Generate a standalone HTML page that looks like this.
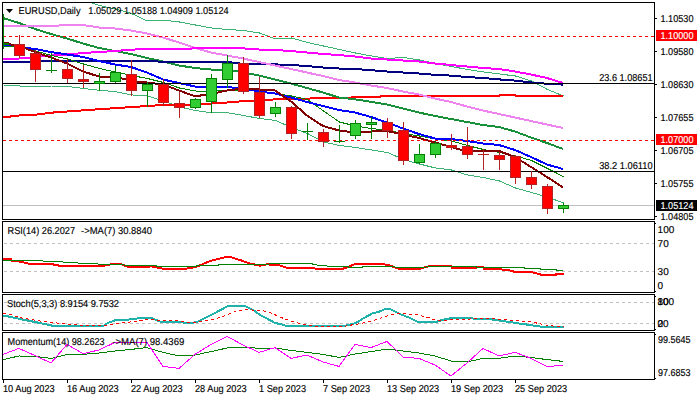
<!DOCTYPE html><html><head><meta charset="utf-8"><style>html,body{margin:0;padding:0;background:#fff;width:700px;height:400px;overflow:hidden}svg{display:block}text{font-family:"Liberation Sans",sans-serif;font-size:10px;fill:#000;stroke:#000;stroke-width:0.15px;text-rendering:geometricPrecision}</style></head><body>
<svg width="700" height="400" viewBox="0 0 700 400">
<rect width="700" height="400" fill="#fff"/>
<defs><clipPath id="cm"><rect x="3" y="3" width="651" height="216"/></clipPath><clipPath id="cr"><rect x="3" y="222" width="651" height="70"/></clipPath><clipPath id="cs"><rect x="3" y="295" width="651" height="35"/></clipPath><clipPath id="cmo"><rect x="3" y="333" width="651" height="46"/></clipPath></defs>
<g clip-path="url(#cm)">
<g fill="none" stroke-linejoin="round" shape-rendering="crispEdges">
<polyline points="3.5,-20 19.5,-16 35.5,-12 51.5,-9 67.5,-5 83.5,0 99.5,5.5 115.5,9 131.5,13.5 147.5,21 163.5,20.2 179.5,22 195.5,25 211.5,28 227.5,29.5 243.5,30.5 259.5,33 275.5,39 291.5,38 307.5,42.5 323.5,46 339.5,49.5 355.5,53 371.5,56 387.5,58.5 403.5,57.5 419.5,60 435.5,63.5 451.5,66.5 467.5,69.5 483.5,72 499.5,74 515.5,76 531.5,81 547.5,89.5 563.5,96" stroke="#3cb371" stroke-width="1"/>
<polyline points="3.5,85 19.5,86 35.5,86.4 51.5,86 67.5,86.5 83.5,88.5 99.5,90.3 115.5,91.6 131.5,94.9 147.5,96 163.5,101 179.5,107 195.5,110.5 211.5,112.7 227.5,112.8 243.5,115.5 259.5,118.5 275.5,120.5 291.5,127.5 307.5,133.5 323.5,142 339.5,145.5 355.5,147.5 371.5,150 387.5,152.5 403.5,159.5 419.5,164 435.5,168 451.5,170 467.5,175 483.5,177.5 499.5,181 515.5,188 531.5,192.5 547.5,197 563.5,203" stroke="#3cb371" stroke-width="1"/>
<polyline points="3,117.4 19,115.5 35,114.8 51,112.7 67,111.5 83,110.4 99,109.2 115,108.2 131,107.1 147,106 163,105 179,104.5 195,104.5 211,103.5 227,102.5 243,101.2 259,100.3 275,99.4 291,99 307,98.6 323,98.1 339,97.9 355,97.4 371,96.8 387,96.3 403,96 419,96 435,96 451,96 467,96 483,96 499,96 500,95 515,95 516,96 563,96" stroke="#ff0000" stroke-width="2"/>
<polyline points="3,18 19,23 35,29 51,34 67,38.5 83,43.5 99,48 115,51 131,54 147,58 163,61.5 179,65.5 195,68 211,69.5 227,69.5 243,72.5 259,75.5 275,79.5 291,83.5 307,88 323,92.5 339,97.5 355,99.3 371,101.8 387,104.5 403,108.5 419,112.5 435,116 451,119 467,122 483,125 499,127 515,131.5 531,137.5 547,143 563,149" stroke="#18903a" stroke-width="2"/>
<polyline points="3,62 19,62 35,61.5 51,61 67,61 83,61 99,60.5 115,60.5 131,60.5 147,60.5 163,62 179,62 195,62 211,62 227,62 243,63.8 259,64 275,64.4 291,65 307,66 323,67.5 339,68.5 355,69 371,70.2 387,71.5 403,72.5 419,73.5 435,74.8 451,75.6 467,77 483,78 499,79.4 515,80.6 531,82.4 547,83.8 563,84.6" stroke="#000080" stroke-width="2"/>
<polyline points="3,26 19,26 35,26 51,26 67,25 83,25 99,27.5 115,28.5 131,30.5 147,33.5 163,37.5 179,42.5 195,48 211,52.5 227,55.5 243,58.5 259,62 275,65.5 291,69 307,72.5 323,76 339,80 355,82.5 371,85.5 387,88 403,91.5 419,94.5 435,98.5 451,102 467,106.5 483,110.5 499,114 515,117.5 531,121 547,124.5 563,128" stroke="#ee82ee" stroke-width="2"/>
<polyline points="3,58.5 19,58.5 35,57 51,55.5 67,54.5 83,53 99,52 115,51 131,49.7 147,49 163,49 179,49 195,48.4 211,48 227,48 243,48.4 259,49.5 275,50 291,51 307,52.5 323,54 339,55 355,56.5 371,58.5 387,59.5 403,60.5 419,61.5 435,63.5 451,65 467,66.5 483,68 499,69 515,71.5 531,74.5 547,78 563,83" stroke="#ff00ff" stroke-width="2"/>
<polyline points="3.5,46 19.5,47.5 35.5,51 51.5,55.5 67.5,59 83.5,64 99.5,68.5 115.5,72 131.5,75.5 147.5,78.5 163.5,82.5 179.5,88 195.5,91 211.5,91 227.5,90 243.5,90.5 259.5,91.3 275.5,93.6 291.5,96 307.5,99.5 323.5,111 339.5,122 355.5,126 371.5,128.5 387.5,130.5 403.5,133.5 419.5,136 435.5,139 451.5,141 467.5,145.5 483.5,149.5 499.5,152.5 515.5,156 531.5,160.5 547.5,168.5 563.5,176.6" stroke="#008000" stroke-width="1"/>
<polyline points="3,45 19,47 35,49 51,52 67,54.5 83,57 99,61 115,64.5 131,67 147,72.5 163,79.5 179,83 195,86.5 211,87 227,87 243,88.5 259,91.5 275,93.5 291,97.5 307,102 323,106 339,110 355,112.5 371,117 387,122.5 403,128.5 419,134 435,138.5 451,139 467,141 483,143.5 499,145 515,150 531,157 547,164.5 563,169" stroke="#0000ff" stroke-width="2"/>
<polyline points="3,43 19,46 35,52 51,57.5 67,63.5 83,71.5 99,76.5 115,76.5 131,81 147,82.5 163,84.5 179,90.5 195,96.3 211,94 227,90.5 243,88.5 259,89.5 275,90.5 291,101.5 307,115.5 323,126 339,130.5 355,132.5 371,131.5 387,131 403,134.5 419,138 435,142.5 451,147 467,151.5 483,151 499,151 515,157 531,167 547,177 563,187.5" stroke="#800000" stroke-width="2"/>
</g>
<g shape-rendering="crispEdges">
<line x1="3" y1="36.5" x2="654" y2="36.5" stroke="#f00" stroke-width="1" stroke-dasharray="3 3"/>
<line x1="3" y1="140.5" x2="654" y2="140.5" stroke="#f00" stroke-width="1" stroke-dasharray="3 3"/>
<line x1="3" y1="205.5" x2="654" y2="205.5" stroke="#c0c0c0" stroke-width="1"/>
<line x1="3" y1="83.5" x2="654" y2="83.5" stroke="#000" stroke-width="1"/>
<line x1="3" y1="171.5" x2="654" y2="171.5" stroke="#000" stroke-width="1"/>
</g>
<g shape-rendering="crispEdges">
<rect x="3" y="14" width="1" height="35" fill="#008000"/>
<rect x="3" y="43" width="6" height="2" fill="#008000"/><rect x="3" y="46" width="11" height="1" fill="#008000"/><rect x="4" y="42" width="5" height="1" fill="#800000"/>
<rect x="19" y="35" width="1" height="23" fill="#b22222"/>
<rect x="14" y="44" width="11" height="12" fill="#b22222"/>
<rect x="15" y="45" width="9" height="10" fill="#ff0000"/>
<rect x="35" y="50" width="1" height="32" fill="#b22222"/>
<rect x="30" y="53" width="11" height="17" fill="#b22222"/>
<rect x="31" y="54" width="9" height="15" fill="#ff0000"/>
<rect x="51" y="53" width="1" height="20" fill="#008000"/>
<rect x="46" y="70" width="11" height="1" fill="#008000"/>
<rect x="67" y="59" width="1" height="24" fill="#b22222"/>
<rect x="62" y="69" width="11" height="10" fill="#b22222"/>
<rect x="63" y="70" width="9" height="8" fill="#ff0000"/>
<rect x="83" y="65" width="1" height="23" fill="#b22222"/>
<rect x="78" y="79" width="11" height="3" fill="#b22222"/>
<rect x="79" y="80" width="9" height="1" fill="#ff0000"/>
<rect x="99" y="73" width="1" height="18" fill="#008000"/>
<rect x="94" y="81" width="11" height="3" fill="#008000"/>
<rect x="95" y="82" width="9" height="1" fill="#32cd32"/>
<rect x="115" y="66" width="1" height="17" fill="#008000"/>
<rect x="110" y="72" width="11" height="10" fill="#008000"/>
<rect x="111" y="73" width="9" height="8" fill="#32cd32"/>
<rect x="131" y="60" width="1" height="36" fill="#b22222"/>
<rect x="126" y="74" width="11" height="17" fill="#b22222"/>
<rect x="127" y="75" width="9" height="15" fill="#ff0000"/>
<rect x="147" y="82" width="1" height="25" fill="#008000"/>
<rect x="142" y="84" width="11" height="7" fill="#008000"/>
<rect x="143" y="85" width="9" height="5" fill="#32cd32"/>
<rect x="163" y="79" width="1" height="27" fill="#b22222"/>
<rect x="158" y="84" width="11" height="19" fill="#b22222"/>
<rect x="159" y="85" width="9" height="17" fill="#ff0000"/>
<rect x="179" y="92" width="1" height="26" fill="#b22222"/>
<rect x="174" y="103" width="11" height="5" fill="#b22222"/>
<rect x="175" y="104" width="9" height="3" fill="#ff0000"/>
<rect x="195" y="98" width="1" height="11" fill="#008000"/>
<rect x="190" y="99" width="11" height="9" fill="#008000"/>
<rect x="191" y="100" width="9" height="7" fill="#32cd32"/>
<rect x="211" y="74" width="1" height="39" fill="#008000"/>
<rect x="206" y="78" width="11" height="24" fill="#008000"/>
<rect x="207" y="79" width="9" height="22" fill="#32cd32"/>
<rect x="227" y="55" width="1" height="33" fill="#008000"/>
<rect x="222" y="63" width="11" height="17" fill="#008000"/>
<rect x="223" y="64" width="9" height="15" fill="#32cd32"/>
<rect x="243" y="57" width="1" height="37" fill="#b22222"/>
<rect x="238" y="63" width="11" height="29" fill="#b22222"/>
<rect x="239" y="64" width="9" height="27" fill="#ff0000"/>
<rect x="259" y="77" width="1" height="41" fill="#b22222"/>
<rect x="254" y="92" width="11" height="24" fill="#b22222"/>
<rect x="255" y="93" width="9" height="22" fill="#ff0000"/>
<rect x="275" y="102" width="1" height="15" fill="#008000"/>
<rect x="270" y="107" width="11" height="7" fill="#008000"/>
<rect x="271" y="108" width="9" height="5" fill="#32cd32"/>
<rect x="291" y="106" width="1" height="33" fill="#b22222"/>
<rect x="286" y="107" width="11" height="27" fill="#b22222"/>
<rect x="287" y="108" width="9" height="25" fill="#ff0000"/>
<rect x="307" y="123" width="1" height="17" fill="#008000"/>
<rect x="302" y="131" width="11" height="1" fill="#008000"/>
<rect x="323" y="129" width="1" height="18" fill="#b22222"/>
<rect x="318" y="132" width="11" height="10" fill="#b22222"/>
<rect x="319" y="133" width="9" height="8" fill="#ff0000"/>
<rect x="339" y="125" width="1" height="18" fill="#008000"/>
<rect x="334" y="141" width="11" height="1" fill="#008000"/>
<rect x="355" y="120" width="1" height="19" fill="#008000"/>
<rect x="350" y="123" width="11" height="13" fill="#008000"/>
<rect x="351" y="124" width="9" height="11" fill="#32cd32"/>
<rect x="371" y="117" width="1" height="22" fill="#008000"/>
<rect x="366" y="122" width="11" height="3" fill="#008000"/>
<rect x="367" y="123" width="9" height="1" fill="#32cd32"/>
<rect x="387" y="118" width="1" height="20" fill="#b22222"/>
<rect x="382" y="122" width="11" height="9" fill="#b22222"/>
<rect x="383" y="123" width="9" height="7" fill="#ff0000"/>
<rect x="403" y="122" width="1" height="43" fill="#b22222"/>
<rect x="398" y="130" width="11" height="31" fill="#b22222"/>
<rect x="399" y="131" width="9" height="29" fill="#ff0000"/>
<rect x="419" y="144" width="1" height="20" fill="#008000"/>
<rect x="414" y="154" width="11" height="9" fill="#008000"/>
<rect x="415" y="155" width="9" height="7" fill="#32cd32"/>
<rect x="435" y="141" width="1" height="17" fill="#008000"/>
<rect x="430" y="143" width="11" height="12" fill="#008000"/>
<rect x="431" y="144" width="9" height="10" fill="#32cd32"/>
<rect x="451" y="134" width="1" height="16" fill="#b22222"/>
<rect x="446" y="145" width="11" height="3" fill="#b22222"/>
<rect x="447" y="146" width="9" height="1" fill="#ff0000"/>
<rect x="467" y="127" width="1" height="32" fill="#b22222"/>
<rect x="462" y="146" width="11" height="9" fill="#b22222"/>
<rect x="463" y="147" width="9" height="7" fill="#ff0000"/>
<rect x="483" y="149" width="1" height="21" fill="#b22222"/>
<rect x="478" y="154" width="11" height="1" fill="#b22222"/>
<rect x="499" y="152" width="1" height="18" fill="#b22222"/>
<rect x="494" y="155" width="11" height="5" fill="#b22222"/>
<rect x="495" y="156" width="9" height="3" fill="#ff0000"/>
<rect x="515" y="155" width="1" height="29" fill="#b22222"/>
<rect x="510" y="156" width="11" height="22" fill="#b22222"/>
<rect x="511" y="157" width="9" height="20" fill="#ff0000"/>
<rect x="531" y="171" width="1" height="18" fill="#b22222"/>
<rect x="526" y="177" width="11" height="8" fill="#b22222"/>
<rect x="527" y="178" width="9" height="6" fill="#ff0000"/>
<rect x="547" y="184" width="1" height="30" fill="#b22222"/>
<rect x="542" y="186" width="11" height="23" fill="#b22222"/>
<rect x="543" y="187" width="9" height="21" fill="#ff0000"/>
<rect x="563" y="203" width="1" height="10" fill="#008000"/>
<rect x="558" y="205" width="11" height="4" fill="#008000"/>
<rect x="559" y="206" width="9" height="2" fill="#32cd32"/>
</g>
</g>
<g shape-rendering="crispEdges" fill="none" stroke="#000" stroke-width="1">
<rect x="2.5" y="2.5" width="652" height="217"/>
<rect x="2.5" y="221.5" width="652" height="71"/>
<rect x="2.5" y="294.5" width="652" height="36"/>
<rect x="2.5" y="332.5" width="652" height="47"/>
</g>
<g fill="#000" shape-rendering="crispEdges">
<rect x="655" y="18" width="2" height="1"/>
<rect x="655" y="51" width="2" height="1"/>
<rect x="655" y="84" width="2" height="1"/>
<rect x="655" y="117" width="2" height="1"/>
<rect x="655" y="150" width="2" height="1"/>
<rect x="655" y="183" width="2" height="1"/>
<rect x="655" y="216" width="2" height="1"/>
<rect x="3" y="380" width="1" height="3"/>
<rect x="67" y="380" width="1" height="3"/>
<rect x="131" y="380" width="1" height="3"/>
<rect x="195" y="380" width="1" height="3"/>
<rect x="259" y="380" width="1" height="3"/>
<rect x="323" y="380" width="1" height="3"/>
<rect x="387" y="380" width="1" height="3"/>
<rect x="451" y="380" width="1" height="3"/>
<rect x="515" y="380" width="1" height="3"/>
</g>
<text x="660.5" y="22" textLength="33" lengthAdjust="spacingAndGlyphs">1.10530</text>
<text x="660.5" y="55" textLength="33" lengthAdjust="spacingAndGlyphs">1.09580</text>
<text x="660.5" y="88" textLength="33" lengthAdjust="spacingAndGlyphs">1.08630</text>
<text x="660.5" y="121" textLength="33" lengthAdjust="spacingAndGlyphs">1.07655</text>
<text x="660.5" y="154" textLength="33" lengthAdjust="spacingAndGlyphs">1.06705</text>
<text x="660.5" y="187" textLength="33" lengthAdjust="spacingAndGlyphs">1.05755</text>
<text x="660.5" y="220" textLength="33" lengthAdjust="spacingAndGlyphs">1.04805</text>
<rect x="656" y="30" width="41" height="11" fill="#f00"/>
<text x="660.5" y="39" textLength="33" lengthAdjust="spacingAndGlyphs" style="fill:#fff;stroke:#fff">1.10000</text>
<rect x="656" y="134" width="41" height="11" fill="#f00"/>
<text x="660.5" y="143" textLength="33" lengthAdjust="spacingAndGlyphs" style="fill:#fff;stroke:#fff">1.07000</text>
<rect x="656" y="200" width="41" height="11" fill="#000"/>
<text x="660.5" y="209" textLength="33" lengthAdjust="spacingAndGlyphs" style="fill:#fff;stroke:#fff">1.05124</text>
<path d="M6,9 L13,9 L9.5,13 Z" fill="#000"/>
<text x="18.5" y="14" textLength="62" lengthAdjust="spacingAndGlyphs">EURUSD,Daily</text>
<text x="88.3" y="14" textLength="140.3" lengthAdjust="spacingAndGlyphs">1.05029 1.05188 1.04909 1.05124</text>
<text x="599.2" y="81" textLength="53.4" lengthAdjust="spacingAndGlyphs">23.6 1.08651</text>
<text x="599.2" y="169" textLength="53.4" lengthAdjust="spacingAndGlyphs">38.2 1.06110</text>
<g clip-path="url(#cr)">
<g shape-rendering="crispEdges">
<line x1="4" y1="243.5" x2="654" y2="243.5" stroke="#c0c0c0" stroke-dasharray="3 3"/>
<line x1="4" y1="271.5" x2="654" y2="271.5" stroke="#c0c0c0" stroke-dasharray="3 3"/>
</g>
<polyline points="3,259.4 11,259.4 12,261.4 19,261.4 30,264 51,264 59,265.6 104,265.6 115,263.6 120,263.6 128,267 140,267 152,266.4 164,269 184,269 196,267 210,261 222,258 228,256.6 230,257 240,260 250,263.6 260,265.6 267,264.4 279,265 284,267 288,268 315,268.4 316,269 342,269 348,267 354,264.4 360,263.6 380,263.6 388,265 394,267 399,269 420,269 424,267.5 430,266 451,266 452,268 476,268 477,267 483,267 484,269 499,269 505,270 510,270.4 515,272 531,272 536,273.1 542,275 556,275 556,274 563.5,274" fill="none" stroke="#ff0000" stroke-width="2" shape-rendering="crispEdges"/>
<polyline points="3,260.4 40,260.4 45,261.4 60,261.4 65,262.4 76,262.4 80,263.4 95,263.4 100,264.4 115,264.4 124,265 130,265.4 156,265.4 156,266.4 196,266.4 196,265.6 218,265.6 218,264.4 268,264.4 270,263.4 312,263.4 313,264.4 320,265.4 332,266.4 348,266.4 348,267.4 362,267.4 362,266.4 380,266.4 392,266 396,267.4 424,267.4 430,266.4 476,266.4 476,267.4 524,267.4 524,268.3 540,268.3 540,269.3 556,269.3 556,270.3 563,270.3" fill="none" stroke="#008000" stroke-width="1" shape-rendering="crispEdges"/>
</g>
<text x="7.5" y="234" textLength="67.6" lengthAdjust="spacingAndGlyphs">RSI(14) 26.2027</text>
<text x="81.1" y="234" textLength="71" lengthAdjust="spacingAndGlyphs">-&gt;MA(7) 30.8840</text>
<text x="657.6" y="232.5">100</text>
<text x="657.6" y="247.1">70</text>
<text x="657.6" y="275.1">30</text>
<text x="657.6" y="289.1">0</text>
<g clip-path="url(#cs)">
<g shape-rendering="crispEdges">
<line x1="4" y1="302.5" x2="654" y2="302.5" stroke="#c0c0c0" stroke-dasharray="3 3"/>
<line x1="4" y1="323.5" x2="654" y2="323.5" stroke="#c0c0c0" stroke-dasharray="3 3"/>
</g>
<polyline points="3,316.4 8,316.4 20,319 30,321 40,323 52,325.6 104,325.6 108,323 116,320 128,319.6 138,318.4 143,317.6 151,317.6 160,321.6 180,322 186,323 196,322.4 210,315.6 228,306 245,306 254,310.4 260,315 266,318 275,323 280,324 288,326.4 342,326.4 348,325 356,323 364,318 372,313.6 380,311.4 386,308.6 390,309 400,314 410,318 418,322 436,322 442,320 452,318 468,318 474,318.6 494,319.6 502,321 510,322 520,323.6 530,325 540.3,326.6 563.9,326.6" fill="none" stroke="#20b2aa" stroke-width="2" shape-rendering="crispEdges"/>
<polyline points="3,313.4 8,313.6 20,317.6 40,321 60,323.4 80,325 100,325.6 108,325 120,323 130,322 150,319 160,320.4 180,321 194,323 210,320 222,317 234,312 244,309.6 260,310.4 268,311.6 280,317 292,321.6 304,324.4 316,326.4 340,327 348,325.6 360,323.6 372,321 384,317 390,315 400,313.4 418,315 430,318 436,320.6 450,320 470,319 490,318.6 502,319.6 514,320.4 530,321.6 541.9,324.2 549.7,325.8 563.9,326.6" fill="none" stroke="#ff0000" stroke-width="1" stroke-dasharray="3 3" shape-rendering="crispEdges"/>
</g>
<text x="7" y="307" textLength="112" lengthAdjust="spacingAndGlyphs">Stoch(5,3,3) 8.9154 9.7532</text>
<text x="657.4" y="305">100</text><text x="657.4" y="305">80</text>
<text x="657.4" y="327">20</text><text x="657.4" y="327">0</text>
<g clip-path="url(#cmo)">
<polyline points="3,359.6 19,356 35,356.4 51,358.4 67,354.4 83,354.4 99,353 115,351 131,349.4 147,347.6 163,352.4 179,356 195,355 211,351.6 227,348 243,347 259,348.4 275,348 291,350.4 307,352.4 323,354.4 339,357.4 355,354 371,351.6 387,349 403,351 419,353 435,356 451,361 467,362 483,358.4 499,358.3 515,356 531,357.5 547,359.6 563,361.4" fill="none" stroke="#008000" stroke-width="1" shape-rendering="crispEdges"/>
<polyline points="3,354.4 19,348.4 35,355.6 51,363 67,344.4 83,353.6 99,350 115,342.4 131,342.4 147,342.4 163,366.4 179,368.4 195,354.4 211,344.4 227,336.4 243,345 259,352.4 275,347.6 291,358.4 307,355 323,362 339,366.4 355,344.4 371,347.6 387,341.4 403,357 419,358.4 435,365 451,376 467,363 483,348.4 499,356 515,352.3 531,358.3 547,366.5 563,365.4" fill="none" stroke="#ff00ff" stroke-width="1" shape-rendering="crispEdges"/>
</g>
<text x="7.6" y="345" textLength="97" lengthAdjust="spacingAndGlyphs">Momentum(14) 98.2623</text>
<text x="112.3" y="345" textLength="72" lengthAdjust="spacingAndGlyphs">-&gt;MA(7) 98.4369</text>
<text x="658" y="343" textLength="32.5" lengthAdjust="spacingAndGlyphs">99.5645</text>
<text x="658" y="376" textLength="32.5" lengthAdjust="spacingAndGlyphs">97.6853</text>
<g fill="#000" shape-rendering="crispEdges"><rect x="655" y="223" width="1" height="1"/><rect x="655" y="291" width="1" height="1"/><rect x="655" y="296" width="1" height="1"/><rect x="655" y="329" width="1" height="1"/><rect x="655" y="334" width="1" height="1"/><rect x="655" y="378" width="1" height="1"/></g>
<text x="3" y="392" textLength="51.6" lengthAdjust="spacingAndGlyphs">10 Aug 2023</text>
<text x="67" y="392" textLength="51.6" lengthAdjust="spacingAndGlyphs">16 Aug 2023</text>
<text x="131" y="392" textLength="51.6" lengthAdjust="spacingAndGlyphs">22 Aug 2023</text>
<text x="195" y="392" textLength="51.6" lengthAdjust="spacingAndGlyphs">28 Aug 2023</text>
<text x="259" y="392" textLength="47.0" lengthAdjust="spacingAndGlyphs">1 Sep 2023</text>
<text x="323" y="392" textLength="47.0" lengthAdjust="spacingAndGlyphs">7 Sep 2023</text>
<text x="387" y="392" textLength="52.1" lengthAdjust="spacingAndGlyphs">13 Sep 2023</text>
<text x="451" y="392" textLength="52.1" lengthAdjust="spacingAndGlyphs">19 Sep 2023</text>
<text x="515" y="392" textLength="52.1" lengthAdjust="spacingAndGlyphs">25 Sep 2023</text>
</svg></body></html>
